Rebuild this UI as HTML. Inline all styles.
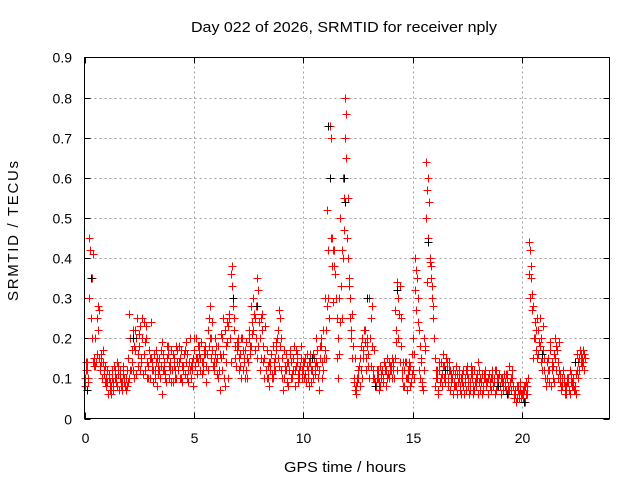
<!DOCTYPE html>
<html><head><meta charset="utf-8"><style>
html,body{margin:0;padding:0;background:#fff}
svg{display:block;font-family:"Liberation Sans",sans-serif}
</style></head><body>
<svg id="chart" width="640" height="480" xmlns="http://www.w3.org/2000/svg">
<rect width="640" height="480" fill="#fff"/>
<text x="344" y="32" font-size="15" text-anchor="middle" textLength="306" lengthAdjust="spacingAndGlyphs">Day 022 of 2026, SRMTID for receiver nply</text>
<text transform="translate(18,231) rotate(-90)" font-size="15" text-anchor="middle" textLength="140" lengthAdjust="spacing">SRMTID / TECUs</text>
<text x="345" y="472" font-size="15" text-anchor="middle" textLength="122" lengthAdjust="spacingAndGlyphs">GPS time / hours</text>
<g id="grid"></g>
<g id="axes"></g>
<g id="marks"></g>
<rect x="84.5" y="57.5" width="525" height="361" fill="none" stroke="#000" stroke-width="1"/>
</svg>
<script>
const xTicks=[0,5,10,15,20];
const yTicks=[0,0.1,0.2,0.3,0.4,0.5,0.6,0.7,0.8,0.9];
const slotStart=0, slotStep=0.1;
const seriesA=[.08,.12,.45,.25,.14,.2,.28,.13,.1,.12,
.08,.1,.06,.09,.12,.08,.1,.07,.09,.1,
.15,.2,.12,.22,.25,.18,.14,.24,.2,.13,
.1,.14,.12,.08,.15,.13,.16,.11,.18,.14,
.12,.15,.1,.14,.17,.13,.11,.16,.12,.14,
.17,.2,.14,.15,.12,.18,.16,.25,.2,.14,
.14,.18,.07,.2,.22,.24,.26,.36,.3,.15,
.18,.16,.2,.14,.12,.22,.28,.3,.25,.35,
.2,.26,.15,.12,.1,.14,.18,.12,.2,.27,
.12,.1,.16,.14,.17,.1,.12,.14,.1,.18,
.12,.15,.1,.14,.12,.15,.2,.07,.18,.22,
.3,.52,.73,.45,.38,.3,.2,.5,.6,.8,
.45,.35,.2,.1,.08,.12,.15,.2,.22,.18,
.3,.25,.12,.09,.1,.08,.12,.14,.12,.1,
.12,.14,.27,.34,.33,.1,.12,.14,.1,.13,
.2,.4,.35,.12,.15,.2,.64,.6,.4,.3,
.15,.1,.12,.14,.16,.1,.08,.12,.1,.09,
.08,.1,.06,.12,.09,.11,.07,.1,.12,.08,
.14,.1,.08,.12,.09,.11,.07,.1,.12,.09,
.08,.1,.09,.11,.13,.07,.08,.06,.07,.09,
.06,.07,.09,.44,.38,.28,.2,.25,.18,.15,
.12,.08,.15,.19,.1,.2,.17,.12,.07,.09,
.08,.1,.06,.09,.07,.12,.15,.16,.14];
const seriesB=[.14,.1,.42,.35,.13,.25,.15,.16,.14,.09,
.12,.07,.1,.13,.09,.13,.08,.11,.08,.12,
.1,.14,.18,.11,.16,.23,.2,.12,.1,.17,
.15,.09,.17,.13,.1,.19,.12,.15,.1,.17,
.09,.12,.17,.1,.13,.16,.19,.12,.1,.15,
.13,.15,.18,.11,.17,.13,.22,.28,.17,.2,
.11,.12,.21,.16,.14,.1,.2,.38,.25,.19,
.15,.2,.12,.17,.1,.18,.24,.26,.2,.32,
.15,.18,.23,.1,.14,.11,.12,.17,.15,.25,
.15,.13,.09,.12,.1,.15,.17,.09,.13,.12,
.1,.13,.14,.09,.16,.11,.13,.15,.1,.15,
.22,.42,.7,.42,.36,.25,.3,.25,.55,.76,
.4,.25,.26,.07,.1,.13,.18,.17,.15,.13,
.2,.28,.17,.1,.07,.11,.09,.13,.15,.13,
.15,.1,.22,.3,.25,.08,.14,.1,.12,.16,
.16,.37,.3,.1,.08,.17,.57,.54,.35,.25,
.1,.07,.09,.11,.13,.14,.12,.09,.06,.11,
.11,.07,.09,.06,.12,.08,.13,.06,.09,.11,
.09,.06,.11,.08,.1,.08,.1,.12,.08,.11,
.1,.07,.11,.08,.09,.1,.05,.08,.06,.05,
.05,.08,.06,.42,.31,.2,.17,.22,.2,.23,
.1,.14,.09,.12,.16,.18,.14,.09,.1,.06,
.1,.07,.09,.1,.11,.14,.17,.13,.16];
const seriesC=[.1,.14,.3,.2,.15,.14,.22,.12,.17,.13,
.09,.11,.08,.07,.1,.11,.12,.09,.1,.08,
.26,.12,.22,.17,.13,.12,.25,.16,.23,.1,
.24,.12,.1,.15,.12,.06,.14,.09,.16,.12,
.16,.1,.14,.18,.1,.12,.14,.09,.2,.12,
.2,.11,.16,.19,.14,.16,.12,.2,.24,.12,
.18,.1,.15,.25,.08,.19,.25,.33,.22,.13,
.2,.13,.17,.1,.15,.2,.18,.22,.28,.18,
.12,.22,.1,.17,.08,.16,.1,.15,.22,.18,
.1,.17,.12,.08,.14,.12,.08,.16,.12,.1,
.14,.09,.12,.16,.1,.13,.17,.12,.2,.12,
.15,.3,.6,.38,.42,.15,.16,.33,.4,.7,
.55,.3,.15,.09,.06,.1,.12,.15,.19,.2,
.1,.18,.1,.08,.12,.13,.1,.12,.1,.14,
.13,.12,.19,.2,.14,.12,.08,.07,.14,.09,
.12,.32,.24,.18,.09,.12,.5,.45,.38,.28,
.08,.12,.14,.08,.1,.15,.1,.07,.12,.08,
.06,.12,.1,.08,.07,.1,.09,.12,.07,.1,
.12,.09,.07,.1,.06,.09,.12,.09,.07,.1,
.06,.09,.08,.1,.07,.12,.06,.04,.08,.07,
.07,.04,.08,.36,.35,.15,.22,.16,.25,.12,
.15,.1,.12,.08,.13,.15,.1,.11,.08,.1,
.06,.09,.11,.08,.08,.16,.12,.15,.12];
const seriesD=[.12,.09,.25,.41,.13,.16,.27,.14,.11,.1,
.06,.09,.12,.1,.14,.07,.09,.13,.07,.09,
.12,.17,.1,.2,.21,.15,.11,.19,.14,.15,
.12,.16,.14,.11,.17,.12,.1,.18,.13,.09,
.13,.18,.12,.15,.09,.17,.1,.14,.13,.08,
.15,.18,.12,.14,.16,.09,.18,.15,.13,.16,
.15,.16,.12,.1,.18,.23,.14,.28,.18,.17,
.12,.1,.15,.19,.14,.16,.21,.17,.15,.24,
.25,.14,.12,.13,.12,.1,.14,.19,.13,.2,
.07,.12,.14,.16,.11,.18,.13,.11,.15,.14,
.11,.16,.08,.12,.15,.14,.1,.18,.14,.17,
.28,.25,.45,.29,.3,.1,.24,.42,.47,.65,
.33,.22,.18,.15,.09,.08,.1,.22,.12,.16,
.13,.1,.09,.12,.09,.1,.14,.08,.11,.12,
.1,.15,.12,.26,.18,.14,.1,.12,.08,.11,
.1,.27,.22,.14,.07,.18,.34,.39,.33,.2,
.12,.06,.1,.13,.09,.12,.14,.11,.08,.13,
.09,.08,.11,.1,.13,.06,.11,.08,.1,.06,
.07,.11,.1,.09,.11,.1,.08,.06,.1,.08,
.09,.11,.07,.06,.1,.08,.07,.05,.05,.06,
.08,.06,.1,.3,.27,.24,.15,.19,.14,.17,
.08,.12,.17,.14,.09,.12,.19,.08,.12,.08,
.09,.12,.08,.07,.06,.1,.14,.17,.15];
const blackHours=[0.1,0.3,2.2,11.15,11.2,11.85,11.9,12.9,15.7,18.9,20.1,20.9,22.4,7.9,10.4,13.3,16.5,14.3,6.8,19.3];
const blackVals=[.07,.35,.2,.73,.6,.6,.54,.3,.44,.08,.04,.16,.14,.28,.15,.08,.12,.32,.3,.06];

const X0=84.5,X1=609.5,Y0=418.5,Y1=57.5,XMAX=24,YMAX=0.9;
const sx=h=>X0+(X1-X0)*h/XMAX;
const sy=v=>Y0-(Y0-Y1)*v/YMAX;
const NS="http://www.w3.org/2000/svg";
function mk(tag,attrs,parent){const e=document.createElementNS(NS,tag);for(const k in attrs)e.setAttribute(k,attrs[k]);parent.appendChild(e);return e;}
const grid=document.getElementById('grid'),axes=document.getElementById('axes'),marks=document.getElementById('marks');
yTicks.forEach(v=>{
  const y=Math.round(sy(v))+0.5;
  if(v>0&&v<YMAX){const g=mk('line',{x1:X0,x2:X1,y1:y,y2:y,stroke:'#a0a0a0','stroke-dasharray':'2,3'},grid);
  
  }
  const t=mk('line',{x1:X0,x2:X0+6,y1:y,y2:y,stroke:'#000'},axes);
  
  
  const t2=mk('line',{x1:X1-6,x2:X1,y1:y,y2:y,stroke:'#000'},axes);
  
  
  const l=mk('text',{x:72,y:y+5,'font-size':14,'text-anchor':'end'},axes);l.textContent=(v===0?'0':v.toFixed(1));
  
  
});
xTicks.forEach(h=>{
  const x=Math.round(sx(h))+0.5;
  if(h>0){const g=mk('line',{x1:x,x2:x,y1:Y0,y2:Y1,stroke:'#a0a0a0','stroke-dasharray':'2,3'},grid);
  
  }
  const t=mk('line',{x1:x,x2:x,y1:Y0,y2:Y0-6,stroke:'#000'},axes);
  
  
  const t2=mk('line',{x1:x,x2:x,y1:Y1,y2:Y1+6,stroke:'#000'},axes);
  
  
  const l=mk('text',{x:x,y:443,'font-size':14,'text-anchor':'middle'},axes);l.textContent=String(h);
  
  
});
function plus(h,v,color,name){
  const x=Math.round(sx(h))+0.5,y=Math.round(sy(v))+0.5;
  const p=mk('path',{d:`M${x-4} ${y}H${x+4}M${x} ${y-4}V${y+4}`,stroke:color,'stroke-width':1,fill:'none'},marks);
  
  
}
const allSeries=[seriesA,seriesB,seriesC,seriesD];
const offsets=[0,0.05,0.025,0.075];
allSeries.forEach((s,si)=>s.forEach((v,i)=>plus(slotStart+i*slotStep+offsets[si],v,'#ff0000','red-point')));
blackHours.forEach((h,i)=>plus(h,blackVals[i],'#000000','black-point'));
</script>
</body></html>
